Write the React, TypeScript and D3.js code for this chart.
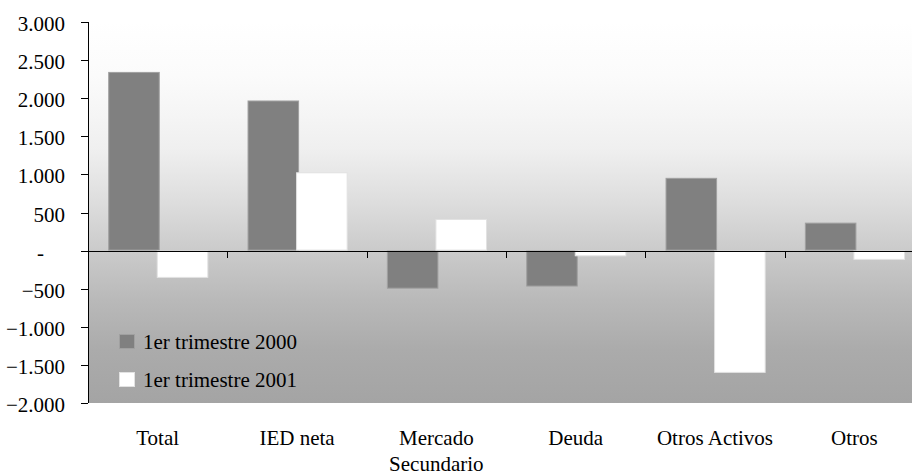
import React from "react";
import * as d3 from "d3";

const categories: string[][] = [
  ["Total"],
  ["IED neta"],
  ["Mercado", "Secundario"],
  ["Deuda"],
  ["Otros Activos"],
  ["Otros"],
];
const seriesNames = ["1er trimestre 2000", "1er trimestre 2001"];
const values2000 = [2345, 1970, -500, -472, 955, 367];
const values2001 = [-358, 1028, 415, -75, -1605, -122];
const yTicks = [3000, 2500, 2000, 1500, 1000, 500, 0, -500, -1000, -1500, -2000];

const W = 912;
const H = 476;
const plotLeft = 88;
const plotRight = 924; // last category runs past the visible edge
const plotTop = 22;
const plotBottom = 403;
const FONT = "Liberation Serif, DejaVu Serif, serif";

const fmt = (v: number) =>
  v === 0 ? "-\u2007\u2007" : d3.format(",")(v).replace(/,/g, ".");

export default function App() {
  const keys = categories.map((c) => c.join(" "));
  const x = d3.scaleBand<string>().domain(keys).range([plotLeft, plotRight]).padding(0);
  const y = d3.scaleLinear().domain([-2000, 3000]).range([plotBottom, plotTop]);
  const bw = x.bandwidth();
  const gap = bw * 0.145;
  const barW = bw * 0.37;
  const overlap = 3;
  const series = [
    { name: seriesNames[0], values: values2000, fill: "#808080", stroke: "#a0a0a0", off: gap },
    { name: seriesNames[1], values: values2001, fill: "#ffffff", stroke: "#e2e2e2", off: gap + barW - overlap },
  ];
  const y0 = y(0);

  const bgStops: [number, string][] = [
    [0, "#ffffff"],
    [0.14, "#fbfbfb"],
    [0.245, "#f5f5f5"],
    [0.336, "#efefef"],
    [0.467, "#dedede"],
    [0.598, "#cbcbcb"],
    [0.73, "#b9b9b9"],
    [0.86, "#ababab"],
    [1, "#a4a4a4"],
  ];
  const textStyle = { fontFamily: FONT, fontSize: 21, fill: "#000" } as React.CSSProperties;

  return (
    <div style={{ position: "absolute", left: 0, top: 0 }}>
      <svg width={W} height={H} style={{ display: "block", background: "#ffffff" }}>
        <defs>
          <linearGradient id="plotBg" x1="0" y1={plotTop} x2="0" y2={plotBottom} gradientUnits="userSpaceOnUse">
            {bgStops.map(([o, c]) => (
              <stop key={o} offset={o} stopColor={c} />
            ))}
          </linearGradient>
        </defs>
        <rect x={plotLeft} y={plotTop} width={plotRight - plotLeft} height={plotBottom - plotTop} fill="url(#plotBg)" />

        {series.map((s, si) => (
          <g key={si}>
            {s.values.map((v, i) => {
              const bx = (x(keys[i]) as number) + s.off;
              const top = Math.min(y(v), y0);
              const h = Math.abs(y(v) - y0);
              return (
                <rect key={i} x={bx + 0.5} y={top + 0.5} width={barW - 1} height={Math.max(h - 1, 0)}
                  fill={s.fill} stroke={s.stroke} strokeWidth={1} />
              );
            })}
          </g>
        ))}

        {/* zero line and category ticks */}
        <line x1={plotLeft - 7} x2={plotRight} y1={Math.round(y0) + 0.5} y2={Math.round(y0) + 0.5} stroke="#000" strokeWidth={1} />
        {keys.slice(1).map((k) => {
          const tx = Math.round(x(k) as number) + 0.5;
          return <line key={k} x1={tx} x2={tx} y1={Math.round(y0)} y2={Math.round(y0) + 7} stroke="#000" />;
        })}

        {/* y axis */}
        <line x1={plotLeft + 0.5} x2={plotLeft + 0.5} y1={plotTop} y2={plotBottom} stroke="#000" />
        {yTicks.map((t) => {
          const ty = Math.round(y(t)) + 0.5;
          return (
            <g key={t}>
              <line x1={plotLeft - 7} x2={plotLeft} y1={ty} y2={ty} stroke="#000" />
              <text x={65} y={ty} dy="0.4em" textAnchor="end" style={{ ...textStyle, whiteSpace: "pre" }}>
                {fmt(t)}
              </text>
            </g>
          );
        })}

        {/* category labels */}
        {categories.map((lines, i) => (
          <text key={i} x={(x(keys[i]) as number) + bw / 2} y={445} textAnchor="middle" style={textStyle}>
            {lines.map((l, li) => (
              <tspan key={li} x={(x(keys[i]) as number) + bw / 2} dy={li === 0 ? 0 : 26}>
                {l}
              </tspan>
            ))}
          </text>
        ))}

        {/* legend */}
        {series.map((s, i) => (
          <g key={s.name} transform={`translate(119, ${334 + i * 38})`}>
            <rect x={0.5} y={0.5} width={15} height={14} fill={s.fill} stroke={s.stroke} />
            <text x={24} y={15} style={textStyle}>
              {s.name}
            </text>
          </g>
        ))}
      </svg>
    </div>
  );
}
